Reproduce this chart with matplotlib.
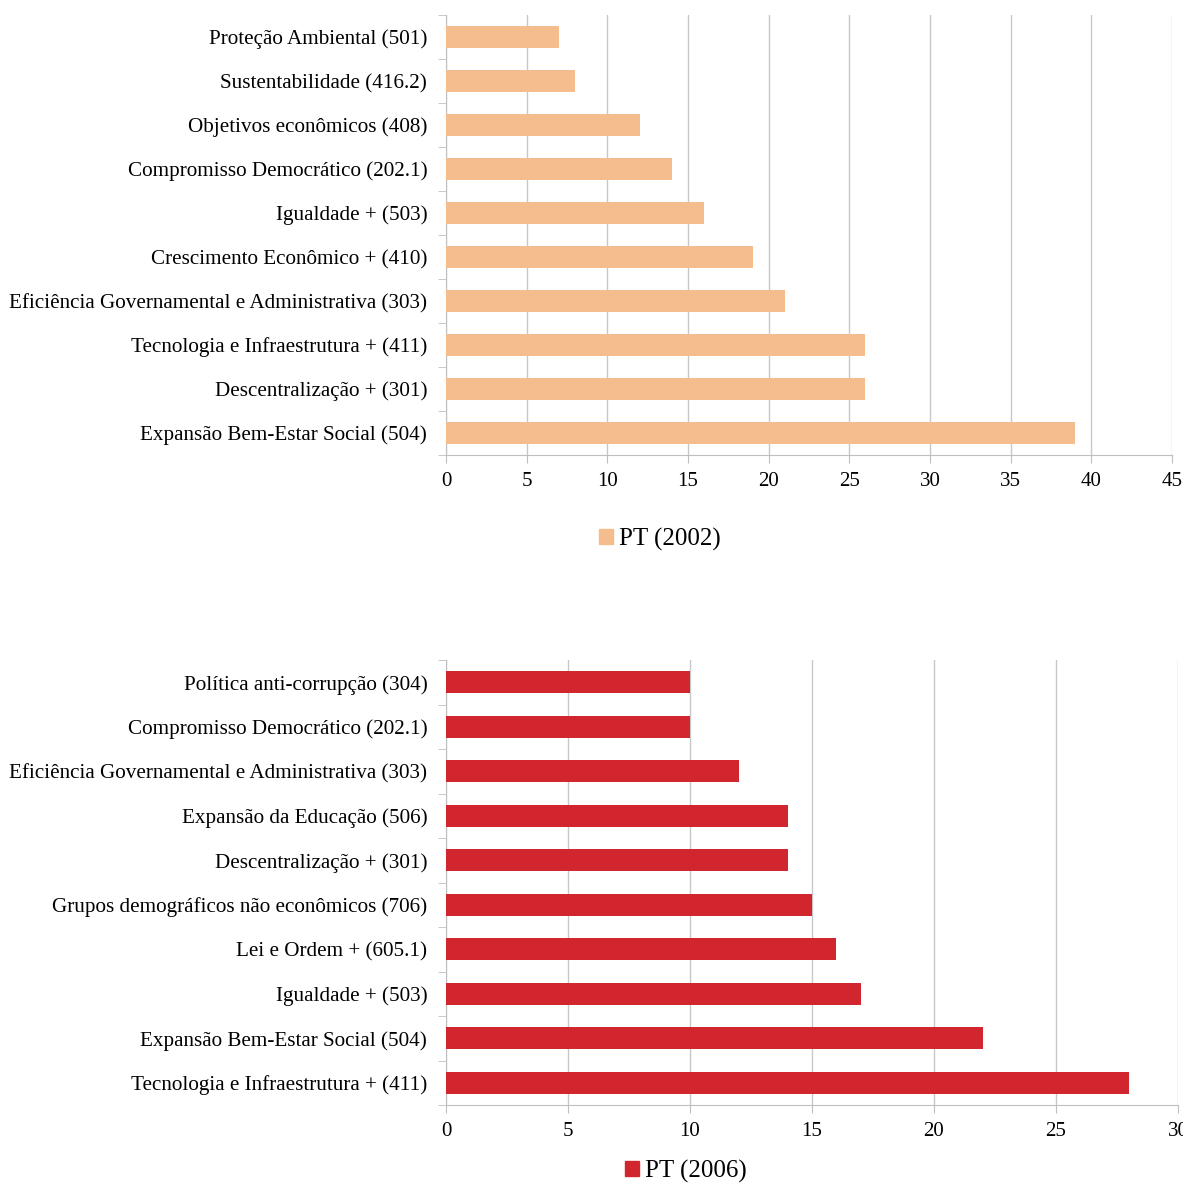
import numpy as np
import matplotlib
matplotlib.use("Agg")
import matplotlib.pyplot as plt
from matplotlib.patches import Patch

plt.rcParams['font.family'] = ['Liberation Serif', 'DejaVu Serif']

# data, top to bottom as shown
cats_2002 = ["Proteção Ambiental (501)", "Sustentabilidade (416.2)",
             "Objetivos econômicos (408)", "Compromisso Democrático (202.1)",
             "Igualdade + (503)", "Crescimento Econômico + (410)",
             "Eficiência Governamental e Administrativa (303)",
             "Tecnologia e Infraestrutura + (411)", "Descentralização + (301)",
             "Expansão Bem-Estar Social (504)"]
vals_2002 = [7, 8, 12, 14, 16, 19, 21, 26, 26, 39]

cats_2006 = ["Política anti-corrupção (304)", "Compromisso Democrático (202.1)",
             "Eficiência Governamental e Administrativa (303)",
             "Expansão da Educação (506)", "Descentralização + (301)",
             "Grupos demográficos não econômicos (706)", "Lei e Ordem + (605.1)",
             "Igualdade + (503)", "Expansão Bem-Estar Social (504)",
             "Tecnologia e Infraestrutura + (411)"]
vals_2006 = [10, 10, 12, 14, 14, 15, 16, 17, 22, 28]

W, H = 1183, 1184
fig = plt.figure(figsize=(W / 100, H / 100), dpi=100)


def panel(rect, cats, vals, color, xmax, label, leg_pos):
    ax = fig.add_axes(rect)
    y = np.arange(len(cats))
    ax.barh(y, vals, height=0.5, color=color, zorder=3)
    ax.set_ylim(len(cats) - 0.5, -0.5)
    ax.set_xlim(0, xmax)
    ax.set_xticks(np.arange(0, xmax + 1, 5))
    ax.set_yticks(y)
    ax.set_yticklabels(cats)
    ax.set_yticks(np.arange(-0.5, len(cats), 1), minor=True)
    ax.tick_params(axis='y', which='major', length=0, labelsize=15.2, pad=13.5)
    ax.tick_params(axis='y', which='minor', length=6, color='#bfbfbf')
    ax.tick_params(axis='x', length=6, color='#bfbfbf', labelsize=15, pad=6)
    ax.grid(axis='x', color='#c8c8c8', linewidth=1, zorder=0)
    for s in ['top', 'right']:
        ax.spines[s].set_visible(False)
    for s in ['left', 'bottom']:
        ax.spines[s].set_color('#bfbfbf')
    fig.legend(handles=[Patch(color=color, label=label)], loc='center',
               bbox_to_anchor=leg_pos, frameon=False,
               fontsize=18, handlelength=0.55, handleheight=0.55,
               handletextpad=0.25)
    return ax


panel([446 / W, 1 - 455 / H, 726 / W, 440 / H], cats_2002, vals_2002,
      '#f5bd8e', 45, 'PT (2002)', (660 / W, 1 - 539 / H))
panel([446 / W, 1 - 1105 / H, 732 / W, 445 / H], cats_2006, vals_2006,
      '#d2262e', 30, 'PT (2006)', (686 / W, 1 - 1171 / H))

fig.savefig("out.png", dpi=100)
